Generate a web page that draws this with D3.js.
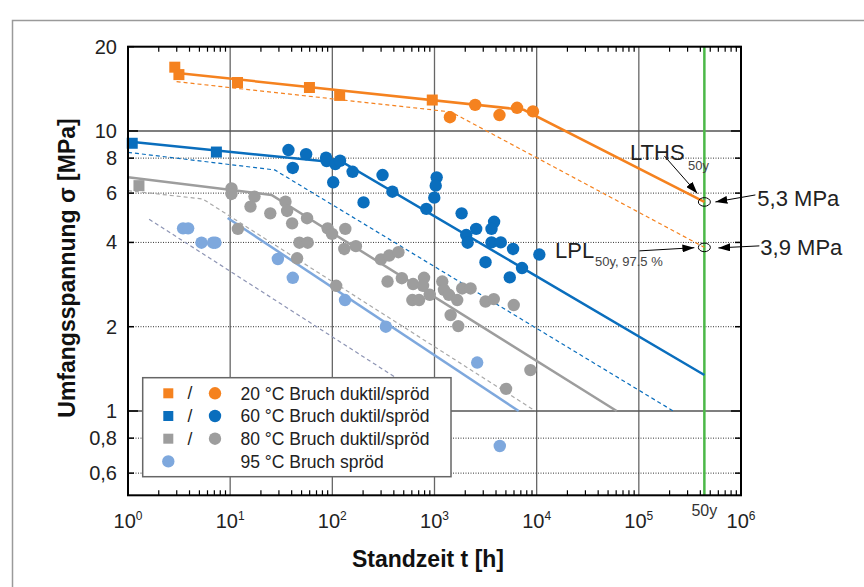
<!DOCTYPE html>
<html><head><meta charset="utf-8">
<script src="https://cdn.jsdelivr.net/npm/d3@7"></script>
<style>body{margin:0;background:#fff;} svg{display:block;font-family:"Liberation Sans",Arial,sans-serif;}</style>
</head><body><svg id="c" width="864" height="587"></svg>
<script>
// ---- axes / ticks ----
const xDecades = [1, 10, 100, 1e3, 1e4, 1e5, 1e6];
const xExponents = ["0", "1", "2", "3", "4", "5", "6"];
const yTicks = [0.6, 0.8, 1, 2, 4, 6, 8, 10, 20];
const yTickLabels = ["0,6", "0,8", "1", "2", "4", "6", "8", "10", "20"];
const ySolid = [1, 10];
const yDotted = [0.6, 0.8, 2, 4, 6, 8];
const t50y = 438000;

// ---- 20 °C ----
const orangeSquares = [[2.87,16.9],[3.15,15.9],[11.8,14.9],[59.7,14.3],[118,13.4],[951,12.9]];
const orangeCircles = [[1416,11.2],[2500,12.4],[4325,11.4],[6425,12.1],[9200,11.75]];
const orangeLine = [[2.87,16.15],[7470,11.9],[438000,5.58]];
const orangeDashed = [[2.99,15.0],[1449,11.7],[438000,3.84]];

// ---- 60 °C ----
const blueSquares = [[1.10,9.04],[7.33,8.41]];
const blueCircles = [[37.2,8.55],[41.0,7.38],[55.4,8.26],[86.8,8.03],[88.0,7.81],[107,7.62],[119,7.83],[102,6.56],[158,7.15],[310,6.96],[387,6.07],[202,5.56],[832,5.27],[1050,6.83],[1028,6.38],[995,5.78],[1842,5.08],[2044,4.25],[2108,3.99],[2558,4.47],[3832,4.74],[3614,4.47],[3614,4.0],[4454,4.0],[5873,3.79],[3158,3.40],[7190,3.24],[5454,3.00],[10620,3.62]];
const blueLine = [[1,9.17],[131,7.67],[438000,1.345]];
const blueDashed = [[1,8.39],[27.3,7.26],[217000,1.0]];

// ---- 80 °C ----
const graySquares = [[1.28,6.38]];
const grayCircles = [[10.3,6.24],[10.3,5.96],[17.3,5.83],[15.8,5.37],[24.7,5.08],[34.8,5.59],[36.1,5.18],[40.4,4.68],[56.6,4.88],[11.9,4.47],[47.6,3.99],[57.4,3.99],[45.2,3.51],[90.0,4.49],[99.3,4.29],[134,4.47],[131,3.79],[170,3.88],[299,3.48],[360,3.59],[443,3.69],[347,2.90],[479,2.98],[109,2.80],[617,2.84],[790,2.99],[772,2.80],[607,2.49],[706,2.49],[898,2.60],[1192,2.90],[1238,2.71],[1384,2.60],[1669,2.49],[1867,2.74],[2255,2.74],[1439,2.20],[1708,2.01],[3158,2.46],[3804,2.51],[5967,2.39],[8680,1.40],[5016,1.20]];
const grayLine = [[1,6.83],[25.4,5.91],[60700,1.0]];
const grayDashed = [[1,6.12],[5.39,5.72],[9710,1.0]];

// ---- 95 °C ----
const lbCircles = [[3.46,4.49],[3.88,4.49],[5.24,3.99],[6.80,3.99],[7.17,3.99],[29.3,3.49],[41.0,2.99],[133,2.49],[334,2.0],[2617,1.49],[4355,0.75]];
const lbLine = [[9.45,4.89],[6670,1.0]];
const lbDashed = [[1.61,4.84],[1350,1.0]];

// ---- legend / annotations ----
const legendLabels = ["20 °C Bruch duktil/spröd","60 °C Bruch duktil/spröd","80 °C Bruch duktil/spröd","95 °C Bruch spröd"];
const lthsValue = 5.58, lplValue = 3.84;
const lthsText = "5,3 MPa", lplText = "3,9 MPa";

const C = {orange:"#f5821f", blue:"#0a6ebd", gray:"#9d9d9d", lblue:"#7ea8dd", green:"#4cb848",
           grayDash:"#a9a9a9", lbDash:"#8d94b4"};

const svg = d3.select("#c");
const X0 = 128, X1 = 741, Y0 = 495.3, Y1 = 46.7;
const x = d3.scaleLog().domain([1, 1e6]).range([X0, X1]);
const y = d3.scaleLog().domain([0.5, 20]).range([Y0, Y1]);

// outer frame
svg.append("rect").attr("x",12.5).attr("y",20.5).attr("width",900).attr("height",700)
  .attr("fill","none").attr("stroke","#9a9a9a").attr("stroke-width",1.5);

const g = svg.append("g");
// vertical decade gridlines
g.selectAll(".vg").data(xDecades.slice(1,-1)).enter().append("line")
  .attr("x1",d=>x(d)).attr("x2",d=>x(d)).attr("y1",Y1).attr("y2",Y0)
  .attr("stroke","#666").attr("stroke-width",1.3);
// horizontal solid
g.selectAll(".hs").data(ySolid).enter().append("line")
  .attr("x1",X0).attr("x2",X1).attr("y1",d=>y(d)).attr("y2",d=>y(d))
  .attr("stroke","#555").attr("stroke-width",1.3);
// dotted
g.selectAll(".hd").data(yDotted).enter().append("line")
  .attr("x1",X0).attr("x2",X1).attr("y1",d=>y(d)).attr("y2",d=>y(d))
  .attr("stroke","#333").attr("stroke-width",1).attr("stroke-dasharray","1,1.5");

// minor ticks x
const minors = [];
for (let d = 0; d < 6; d++) for (let k = 2; k <= 9; k++) minors.push(k*Math.pow(10,d));
g.selectAll(".mtb").data(minors).enter().append("line")
  .attr("x1",d=>x(d)).attr("x2",d=>x(d)).attr("y1",Y0).attr("y2",Y0-5)
  .attr("stroke","#000").attr("stroke-width",1.2);
g.selectAll(".mtt").data(minors).enter().append("line")
  .attr("x1",d=>x(d)).attr("x2",d=>x(d)).attr("y1",Y1).attr("y2",Y1+5)
  .attr("stroke","#000").attr("stroke-width",1.2);
// y ticks left/right
g.selectAll(".ytl").data(yTicks).enter().append("line")
  .attr("x1",X0).attr("x2",d=>X0+(ySolid.includes(d)?10:6)).attr("y1",d=>y(d)).attr("y2",d=>y(d))
  .attr("stroke","#000").attr("stroke-width",1.5);
g.selectAll(".ytr").data(yTicks).enter().append("line")
  .attr("x1",X1).attr("x2",d=>X1-(ySolid.includes(d)?10:6)).attr("y1",d=>y(d)).attr("y2",d=>y(d))
  .attr("stroke","#000").attr("stroke-width",1.5);

// green 50y line
g.append("line").attr("x1",x(t50y)).attr("x2",x(t50y)).attr("y1",Y1).attr("y2",Y0)
  .attr("stroke",C.green).attr("stroke-width",2.5);

const line = d3.line().x(d=>x(d[0])).y(d=>y(d[1]));
function path(data, color, w, dash){
  const p = g.append("path").attr("d",line(data)).attr("fill","none").attr("stroke",color).attr("stroke-width",w);
  if (dash) p.attr("stroke-dasharray",dash);
}
path(lbDashed, C.lbDash, 1.2, "4,3");
path(grayDashed, C.grayDash, 1.2, "4,3");
path(blueDashed, C.blue, 1.2, "4,3");
path(orangeDashed, C.orange, 1.2, "4,3");
path(lbLine, C.lblue, 2.5);
path(grayLine, C.gray, 2.5);
path(blueLine, C.blue, 2.5);
path(orangeLine, C.orange, 2.5);

function circles(data, color){
  g.append("g").selectAll("circle").data(data).enter().append("circle")
    .attr("cx",d=>x(d[0])).attr("cy",d=>y(d[1])).attr("r",6.2).attr("fill",color);
}
function squares(data, color){
  const s = 11;
  g.append("g").selectAll("rect").data(data).enter().append("rect")
    .attr("x",d=>x(d[0])-s/2).attr("y",d=>y(d[1])-s/2).attr("width",s).attr("height",s).attr("fill",color);
}
circles(grayCircles, C.gray); squares(graySquares, C.gray);
circles(lbCircles, C.lblue);
circles(blueCircles, C.blue); squares(blueSquares, C.blue);
circles(orangeCircles, C.orange); squares(orangeSquares, C.orange);

// legend
const L = svg.append("g");
L.append("rect").attr("x",142.7).attr("y",377.7).attr("width",308.3).attr("height",99)
  .attr("fill","#fff").attr("stroke","#666").attr("stroke-width",1.5);
const legColors = [C.orange, C.blue, C.gray, C.lblue];
legendLabels.forEach((lab,i)=>{
  const cy = 393.3 + i*22.7;
  if (i < 3) {
    L.append("rect").attr("x",168.3-5).attr("y",cy-5).attr("width",10).attr("height",10).attr("fill",legColors[i]);
    L.append("text").attr("x",190).attr("y",cy+6).attr("text-anchor","middle").attr("font-size",17.5).attr("fill","#222").text("/");
    L.append("circle").attr("cx",215).attr("cy",cy).attr("r",6.2).attr("fill",legColors[i]);
  } else {
    L.append("circle").attr("cx",168.3).attr("cy",cy).attr("r",6.2).attr("fill",legColors[i]);
  }
  L.append("text").attr("x",240.5).attr("y",cy+6.2).attr("font-size",17.5).attr("fill","#222").text(lab);
});

// frame
svg.append("rect").attr("x",X0).attr("y",Y1).attr("width",X1-X0).attr("height",Y0-Y1)
  .attr("fill","none").attr("stroke","#000").attr("stroke-width",2);

// y tick labels
svg.append("g").selectAll("text").data(yTicks).enter().append("text")
  .attr("x",117).attr("y",d=>y(d)+7).attr("text-anchor","end").attr("font-size",20).attr("fill","#222")
  .text((d,i)=>yTickLabels[i]);
// x tick labels
const xl = svg.append("g").selectAll("text").data(xDecades).enter().append("text")
  .attr("x",d=>x(d)).attr("y",528).attr("text-anchor","middle").attr("font-size",20).attr("fill","#222");
xl.append("tspan").text("10");
xl.append("tspan").attr("font-size",12).attr("dy",-8).text((d,i)=>xExponents[i]);
svg.append("text").attr("x",x(t50y)).attr("y",516).attr("text-anchor","middle").attr("font-size",16).attr("fill","#333").text("50y");

// axis titles
svg.append("text").attr("x",428).attr("y",566.7).attr("text-anchor","middle").attr("font-size",23)
  .attr("font-weight","bold").attr("fill","#111").text("Standzeit t [h]");
svg.append("text").attr("transform","translate(75,268) rotate(-90)").attr("text-anchor","middle").attr("font-size",23)
  .attr("font-weight","bold").attr("fill","#111").text("Umfangsspannung σ [MPa]");

// annotations
const defs = svg.append("defs");
defs.append("marker").attr("id","ah").attr("markerUnits","userSpaceOnUse").attr("markerWidth",12).attr("markerHeight",8)
  .attr("viewBox","0 0 12 8").attr("refX",12).attr("refY",4).attr("orient","auto")
  .append("path").attr("d","M0,0 L12,4 L0,8 Z").attr("fill","#000");
const ex = x(t50y), eyT = y(lthsValue), eyL = y(lplValue);
const A = svg.append("g");
[eyT, eyL].forEach(cy=>A.append("ellipse").attr("cx",ex).attr("cy",cy).attr("rx",6).attr("ry",4.3)
  .attr("fill","none").attr("stroke","#000").attr("stroke-width",1));
function arrow(x1,y1,x2,y2){
  A.append("line").attr("x1",x1).attr("y1",y1).attr("x2",x2).attr("y2",y2)
    .attr("stroke","#000").attr("stroke-width",1).attr("marker-end","url(#ah)");
}
arrow(ex-40, eyT-46, ex-7, eyT-8.5);
arrow(ex+51, eyT-7, ex+11, eyT);
arrow(ex+55, eyL-1.5, ex+14, eyL+0.5);
arrow(ex-65, eyL+3.5, ex-10, eyL+0.3);
A.append("text").attr("x",ex+53).attr("y",eyT+3.7+0).attr("font-size",22).attr("fill","#222").text(lthsText);
A.append("text").attr("x",ex+56).attr("y",eyL+7.3).attr("font-size",22).attr("fill","#222").text(lplText);
A.append("text").attr("x",630).attr("y",160).attr("font-size",22).attr("fill","#222").text("LTHS");
A.append("text").attr("x",688).attr("y",169.5).attr("font-size",13).attr("fill","#444").text("50y");
A.append("text").attr("x",555).attr("y",257.5).attr("font-size",22).attr("fill","#222").text("LPL");
A.append("text").attr("x",595).attr("y",265.7).attr("font-size",13).attr("fill","#444").text("50y, 97.5 %");
</script></body></html>
